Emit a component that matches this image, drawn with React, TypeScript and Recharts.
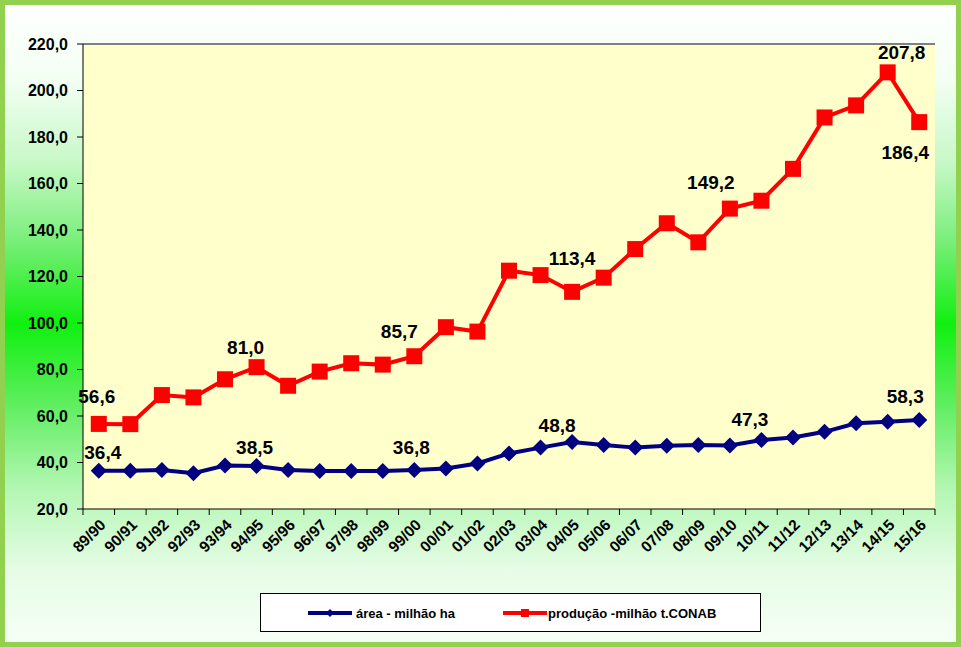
import React from 'react';
import { LineChart, Line, XAxis, YAxis, CartesianGrid, ReferenceLine } from 'recharts';

const seasons = ['89/90', '90/91', '91/92', '92/93', '93/94', '94/95', '95/96', '96/97', '97/98', '98/99', '99/00', '00/01', '01/02', '02/03', '03/04', '04/05', '05/06', '06/07', '07/08', '08/09', '09/10', '10/11', '11/12', '12/13', '13/14', '14/15', '15/16'];
const areaValues = [36.4, 36.5, 36.8, 35.4, 38.7, 38.5, 36.8, 36.3, 36.3, 36.3, 36.8, 37.4, 39.6, 43.9, 46.4, 48.8, 47.5, 46.4, 47.2, 47.5, 47.3, 49.7, 50.8, 53.2, 56.9, 57.5, 58.3];
const prodValues = [56.6, 56.5, 69.0, 68.0, 75.8, 81.0, 73.0, 79.1, 82.7, 82.1, 85.7, 98.2, 96.3, 122.5, 120.6, 113.4, 119.5, 131.8, 142.9, 134.7, 149.2, 152.6, 166.3, 188.4, 193.6, 207.8, 186.4];
const yTicks = [20, 40, 60, 80, 100, 120, 140, 160, 180, 200, 220];
const areaName = 'área - milhão ha';
const prodName = 'produção -milhão t.CONAB';

const data = seasons.map((s, i) => ({ season: s, area: areaValues[i], prod: prodValues[i] }));

// label placement (index -> offset of label centre from point)
const areaLabels: Record<number, [number, number]> = { 0: [4, -18], 5: [-2, -18], 10: [-3, -22], 15: [-15, -17], 20: [20, -26], 26: [-14, -23] };
const prodLabels: Record<number, [number, number]> = { 0: [-2, -27], 5: [-11, -20], 10: [-15, -25], 15: [0, -33], 20: [-19, -26], 25: [14, -20], 26: [-14, 30] };

const W = 961;
const H = 647;
const PLOT_L = 83;
const PLOT_R = 935;
const PLOT_T = 44;
const PLOT_B = 509;
const X_AXIS_H = 60;
const BAND = (PLOT_R - PLOT_L) / seasons.length;
const FONT = 'Arial, "Liberation Sans", sans-serif';

const fmt = (v: number) => v.toFixed(1).replace('.', ',');

const SquareDot = (props: any) => {
  const { cx, cy, index } = props;
  if (cx == null || cy == null) return <g key={`s${index}`} />;
  return <rect key={`s${index}`} x={cx - 8} y={cy - 8} width={16} height={16} fill="#FF0000" />;
};

const DiamondDot = (props: any) => {
  const { cx, cy, index } = props;
  if (cx == null || cy == null) return <g key={`d${index}`} />;
  return <path key={`d${index}`} d={`M${cx},${cy - 8} L${cx + 8},${cy} L${cx},${cy + 8} L${cx - 8},${cy} Z`} fill="#000080" />;
};

const makeLabel = (map: Record<number, [number, number]>) => (props: any) => {
  const { cx, cy, index, value } = props;
  const off = map[index];
  if (!off || cx == null) return null;
  return (
    <text
      key={`l${index}`}
      x={cx + off[0]}
      y={cy + off[1]}
      textAnchor="middle"
      dominantBaseline="central"
      fontFamily={FONT}
      fontWeight="bold"
      fontSize={19}
      fill="#000"
    >
      {fmt(value)}
    </text>
  );
};

const AreaDotWithLabel = (props: any) => (
  <g key={`ad${props.index}`}>
    {DiamondDot(props)}
    {makeLabel(areaLabels)({ ...props, value: props.payload.area })}
  </g>
);
const ProdDotWithLabel = (props: any) => (
  <g key={`pd${props.index}`}>
    {SquareDot(props)}
    {makeLabel(prodLabels)({ ...props, value: props.payload.prod })}
  </g>
);

const XTick = (props: any) => {
  const { x, payload, index } = props;
  return (
    <g>
      {index === 0 && <line x1={x - BAND / 2} x2={x - BAND / 2} y1={PLOT_B} y2={PLOT_B + 6} stroke="#000" />}
      <line x1={x + BAND / 2} x2={x + BAND / 2} y1={PLOT_B} y2={PLOT_B + 6} stroke="#000" />
      <g transform={`translate(${x + 4},${PLOT_B + 13})`}>
        <text transform="rotate(-45)" textAnchor="end" dominantBaseline="central" fontFamily={FONT} fontWeight="bold" fontSize={15.5} fill="#000">
          {payload.value}
        </text>
      </g>
    </g>
  );
};

const Legend = () => (
  <div
    style={{
      position: 'absolute',
      left: 260,
      top: 593,
      width: 501,
      height: 39,
      boxSizing: 'border-box',
      border: '1px solid #000',
      background: '#fff',
    }}
  >
    <svg width={501} height={39} style={{ position: 'absolute', left: -1, top: -1 }}>
      <line x1={48} x2={92} y1={20} y2={20} stroke="#000080" strokeWidth={4} />
      <path d="M70,16 L74,20 L70,24 L66,20 Z" fill="#000080" />
      <text x={96} y={20} dominantBaseline="central" fontFamily={FONT} fontWeight="bold" fontSize={13} fill="#000">{areaName}</text>
      <line x1={243} x2={287} y1={20} y2={20} stroke="#FF0000" strokeWidth={4} />
      <rect x={261} y={16} width={8} height={8} fill="#FF0000" />
      <text x={288} y={20} dominantBaseline="central" fontFamily={FONT} fontWeight="bold" fontSize={13} fill="#000">{prodName}</text>
    </svg>
  </div>
);

export default function App() {
  return (
    <div
      style={{
        position: 'absolute',
        left: 0,
        top: 0,
        width: W,
        height: H,
        overflow: 'hidden',
        background:
          'linear-gradient(to bottom, #ffffff 0%, #f4fff4 12%, #c8f8c8 25%, #74ee74 38%, #10f010 50%, #5cee5c 62%, #b0f6b0 75%, #e6fce6 88%, #f6fff6 100%)',
      }}
    >
      <div style={{ position: 'absolute', left: 0, top: 0 }}>
        <LineChart
          width={W}
          height={H}
          data={data}
          margin={{ top: PLOT_T, right: W - PLOT_R, bottom: H - PLOT_B - X_AXIS_H, left: 7 }}
        >
          <CartesianGrid horizontal={false} vertical={false} fill="#FFFFCC" fillOpacity={1} />
          <ReferenceLine y={220} stroke="#808080" strokeWidth={2} />
          <XAxis
            dataKey="season"
            type="category"
            interval={0}
            padding={{ left: BAND / 2, right: BAND / 2 }}
            axisLine={{ stroke: '#000', strokeWidth: 1 }}
            tickLine={false}
            tick={<XTick />}
            height={X_AXIS_H}
          />
          <YAxis
            type="number"
            domain={[20, 220]}
            ticks={yTicks}
            interval={0}
            width={76}
            tickFormatter={fmt}
            axisLine={{ stroke: '#000', strokeWidth: 1 }}
            tickLine={{ stroke: '#000' }}
            tickSize={6}
            tickMargin={9}
            tick={{ fontFamily: FONT, fontWeight: 'bold', fontSize: 16, fill: '#000' }}
          />
          <YAxis
            yAxisId="frame"
            orientation="right"
            type="number"
            domain={[20, 220]}
            width={0}
            axisLine={{ stroke: '#808080', strokeWidth: 2 }}
            tick={false}
            tickLine={false}
          />
          <Line
            type="linear"
            dataKey="area"
            name={areaName}
            stroke="#000080"
            strokeWidth={4}
            dot={AreaDotWithLabel}
            activeDot={false}
            isAnimationActive={false}
          />
          <Line
            type="linear"
            dataKey="prod"
            name={prodName}
            stroke="#FF0000"
            strokeWidth={4}
            dot={ProdDotWithLabel}
            activeDot={false}
            isAnimationActive={false}
          />
        </LineChart>
      </div>
      <Legend />
      <div
        style={{
          position: 'absolute',
          left: 0,
          top: 0,
          width: W,
          height: H,
          boxSizing: 'border-box',
          border: '5px solid #92D050',
          pointerEvents: 'none',
        }}
      />
    </div>
  );
}
